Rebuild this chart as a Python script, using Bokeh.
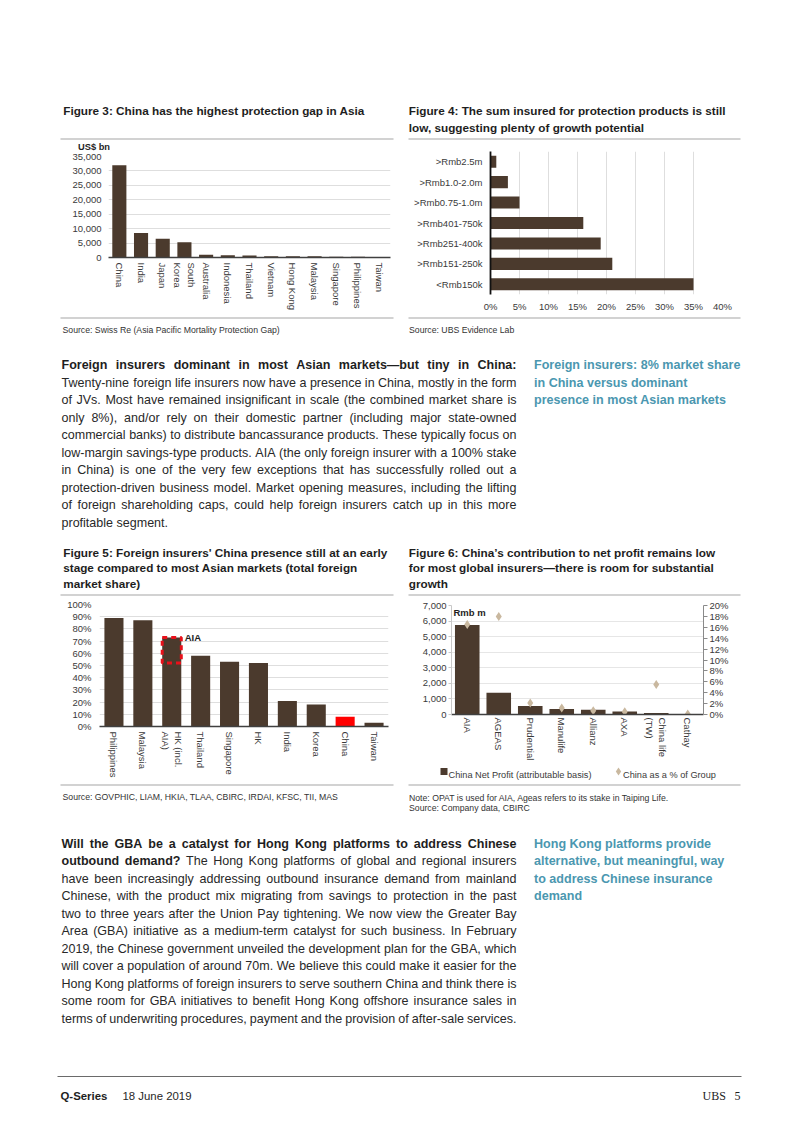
import math
from bokeh.plotting import figure
from bokeh.models import (Range1d, FactorRange, NumeralTickFormatter, PrintfTickFormatter,
                          LinearAxis, Label)
from bokeh.layouts import column, row
from bokeh.core.properties import value
from bokeh.embed import file_html
from bokeh.resources import INLINE

# ---------------- data ----------------
fig3_categories = ["China", "India", "Japan", "South\nKorea", "Australia", "Indonesia", "Thailand",
                   "Vietnam", "Hong Kong", "Malaysia", "Singapore", "Philippines", "Taiwan"]
fig3_values = [32000, 8500, 6500, 5300, 930, 750, 650, 450, 420, 400, 300, 280, 100]
fig3_ticks = [0, 5000, 10000, 15000, 20000, 25000, 30000, 35000]

fig4_categories = [">Rmb2.5m", ">Rmb1.0-2.0m", ">Rmb0.75-1.0m", ">Rmb401-750k",
                   ">Rmb251-400k", ">Rmb151-250k", "<Rmb150k"]  # top to bottom
fig4_values = [1, 3, 5, 16, 19, 21, 35]
fig4_ticks = [0, 5, 10, 15, 20, 25, 30, 35, 40]

fig5_categories = ["Philippines", "Malaysia", "HK (incl.\nAIA)", "Thailand", "Singapore", "HK",
                   "India", "Korea", "China", "Taiwan"]
fig5_values = [89, 87, 73, 58, 53, 52, 21, 18, 8, 3]
fig5_ticks = [0, 10, 20, 30, 40, 50, 60, 70, 80, 90, 100]
fig5_highlight = "China"
fig5_aia_with, fig5_aia_without = "HK (incl.\nAIA)", "HK"

fig6_categories = ["AIA", "AGEAS", "Prudential", "Manulife", "Allianz", "AXA", "China life\n(TW)", "Cathay"]
fig6_profit = [5750, 1400, 550, 350, 300, 200, 100, 20]
fig6_share = [16.5, 18.0, 2.1, 1.2, 0.7, 0.5, 5.5, 0.1]
fig6_left_ticks = [0, 1000, 2000, 3000, 4000, 5000, 6000, 7000]
fig6_right_ticks = [0, 2, 4, 6, 8, 10, 12, 14, 16, 18, 20]
fig6_series = ["China Net Profit (attributable basis)", "China as a % of Group"]

# ---------------- style ----------------
FONT = "Liberation Sans"
BROWN = "#4b3a2d"
RED = "#ff0000"
BEIGE = "#c9b89f"
TEAL = "#4b97b0"
RULE = "#d2d2d2"
GRID = "#dedede"
AX = "#404040"
TXT = "#1e1e1e"
BODY = "#282828"
LBL = "#3a3a3a"

# Arial / Liberation Sans advance widths (1/1000 em)
REG = {}
for chs, w in [("'", 191), ("ijl\u2019", 222), (" !,./:;ftI[]\\", 278), ("()-r`", 333), ('"', 355),
               ("*", 389), ("cksvxyzJ", 500), ("0123456789abdeghnopqu#$?_L", 556), ("+<=>", 584),
               ("FTZ", 611), ("ABEKPSVXY&", 667), ("CDHNRUw", 722), ("GOQ", 778), ("Mm", 833),
               ("%", 889), ("W", 944), ("\u2014", 1000), ("@", 1015)]:
    for c in chs:
        REG[c] = w
BOLD = {}
for chs, w in [("'", 238), (" ,./ijlI\u2019", 278), ("!():;-ft`", 333), ("r", 389), ("z", 500),
               ("0123456789acesvxykJ$#_", 556), ("+<=>", 584), ("bdghnopquFTZL?", 611),
               ("EPSVXY", 667), ("ABCDHKNRU&", 722), ("GOQw", 778), ("M", 833), ("m%", 889),
               ("W", 944), ("\u2014", 1000)]:
    for c in chs:
        BOLD[c] = w


def em(s, bold=False):
    t = BOLD if bold else REG
    return sum(t.get(c, 556) for c in s) / 1000.0


# ---------------- text content ----------------
title3 = ["Figure 3: China has the highest protection gap in Asia"]
title4 = ["Figure 4: The sum insured for protection products is still",
          "low, suggesting plenty of growth potential"]
title5 = ["Figure 5: Foreign insurers' China presence still at an early",
          "stage compared to most Asian markets (total foreign",
          "market share)"]
title6 = ["Figure 6: China\u2019s contribution to net profit remains low",
          "for most global insurers\u2014there is room for substantial",
          "growth"]
src3 = "Source:  Swiss Re (Asia Pacific Mortality Protection Gap)"
src4 = "Source:  UBS Evidence Lab"
src5 = "Source:  GOVPHIC, LIAM, HKIA, TLAA, CBIRC, IRDAI, KFSC, TII, MAS"
note6 = "Note: OPAT is used for AIA, Ageas refers to its stake in Taiping Life."
src6 = "Source:  Company data, CBIRC"

para1 = [
    [("Foreign insurers dominant in most Asian markets\u2014but tiny in China:", True)],
    [("Twenty-nine foreign life insurers now have a presence in China, mostly in the form", False)],
    [("of JVs. Most have remained insignificant in scale (the combined market share is", False)],
    [("only 8%), and/or rely on their domestic partner (including major state-owned", False)],
    [("commercial banks) to distribute bancassurance products. These typically focus on", False)],
    [("low-margin savings-type products. AIA (the only foreign insurer with a 100% stake", False)],
    [("in China) is one of the very few exceptions that has successfully rolled out a", False)],
    [("protection-driven business model. Market opening measures, including the lifting", False)],
    [("of foreign shareholding caps, could help foreign insurers catch up in this more", False)],
    [("profitable segment.", False)],
]
side1 = ["Foreign insurers: 8% market share", "in China versus dominant", "presence in most Asian markets"]

para2 = [
    [("Will the GBA be a catalyst for Hong Kong platforms to address Chinese", True)],
    [("outbound demand?", True), ("The Hong Kong platforms of global and regional insurers", False)],
    [("have been increasingly addressing outbound insurance demand from mainland", False)],
    [("Chinese, with the product mix migrating from savings to protection in the past", False)],
    [("two to three years after the Union Pay tightening. We now view the Greater Bay", False)],
    [("Area (GBA) initiative as a medium-term catalyst for such business. In February", False)],
    [("2019, the Chinese government unveiled the development plan for the GBA, which", False)],
    [("will cover a population of around 70m. We believe this could make it easier for the", False)],
    [("Hong Kong platforms of foreign insurers to serve southern China and think there is", False)],
    [("some room for GBA initiatives to benefit Hong Kong offshore insurance sales in", False)],
    [("terms of underwriting procedures, payment and the provision of after-sale services.", False)],
]
side2 = ["Hong Kong platforms provide", "alternative, but meaningful, way",
         "to address Chinese insurance", "demand"]

# ---------------- sizes ----------------
TITLE_SIZE = 302.0 / em(title3[0], True)
SRC_SIZE = 220.0 / em(src3)
SIDE_SIZE = 206.5 / em(side1[0], True)
PX0, PX1 = 61.0, 516.0


def words_of(segs):
    return [(w, b) for t, b in segs for w in t.split()]


def fit_size(paras, width, min_gap=0.24):
    s = 13.0
    for lines, jl in paras:
        for i, segs in enumerate(lines):
            if i == len(lines) - 1 and not jl:
                continue
            ws = words_of(segs)
            W = sum(em(w, b) for w, b in ws)
            s = min(s, width / (W + min_gap * (len(ws) - 1)))
    return s


PARA_SIZE = fit_size([(para1, False), (para2, True)], PX1 - PX0)


def para_words(lines, y0, dy, size, justify_last):
    reg = ([], [], [])
    bld = ([], [], [])
    for i, segs in enumerate(lines):
        ws = words_of(segs)
        widths = [em(w, b) * size for w, b in ws]
        last = (i == len(lines) - 1) and not justify_last
        if last or len(ws) < 2:
            gap = em(" ") * size
        else:
            gap = (PX1 - PX0 - sum(widths)) / (len(ws) - 1)
        x = PX0
        for (w, b), wd in zip(ws, widths):
            tgt = bld if b else reg
            tgt[0].append(x)
            tgt[1].append(y0 + i * dy)
            tgt[2].append(w)
            x += wd + gap
    return reg, bld


# ---------------- helpers ----------------
PAGE_W = 802


def panel(y_top, y_bot, x0=0, x1=PAGE_W):
    p = figure(width=x1 - x0, height=y_bot - y_top, x_range=Range1d(x0, x1), y_range=Range1d(y_bot, y_top),
               output_backend="svg", toolbar_location=None, min_border=0, title=None,
               x_axis_location=None, y_axis_location=None, outline_line_color=None,
               background_fill_color="white", border_fill_color="white")
    p.xgrid.visible = False
    p.ygrid.visible = False
    return p


def txt(p, xs, ys, texts, size, bold=False, color=TXT, font=FONT, align="left"):
    if not texts:
        return
    p.text(x=xs, y=ys, text=texts, text_font=value(font), text_font_size=value(f"{size:.2f}px"),
           text_font_style="bold" if bold else "normal", text_color=color,
           text_baseline="alphabetic", text_align=align)


def rules(p, y, spans, color=RULE, width=2):
    p.segment(x0=[a for a, b in spans], y0=[y] * len(spans), x1=[b for a, b in spans], y1=[y] * len(spans),
              line_color=color, line_width=width)


def draw_para(p, lines, y0, dy, justify_last):
    reg, bld = para_words(lines, y0, dy, PARA_SIZE, justify_last)
    txt(p, *reg, PARA_SIZE, False, color=BODY)
    txt(p, *bld, PARA_SIZE, True)


def chart(width, height, x_range, y_range, mb):
    p = figure(width=width, height=height, x_range=x_range, y_range=y_range, output_backend="svg",
               toolbar_location=None, title=None, outline_line_color=None,
               min_border_left=mb[0], min_border_right=mb[1], min_border_top=mb[2], min_border_bottom=mb[3],
               background_fill_color="white", border_fill_color="white")
    return p


def style_axis(ax, line_color=None, line_width=1.0, ticks_out=0, tick_color=AX, standoff=5):
    ax.axis_line_color = line_color
    ax.axis_line_width = line_width
    ax.major_tick_line_color = tick_color if ticks_out else None
    ax.major_tick_out = ticks_out
    ax.major_tick_in = 0
    ax.minor_tick_line_color = None
    ax.major_label_text_font = FONT
    ax.major_label_text_font_size = "9.5px"
    ax.major_label_text_color = LBL
    ax.major_label_standoff = standoff


def note_label(p, x, y, text, xo, yo):
    p.add_layout(Label(x=x, y=y, x_offset=xo, y_offset=yo, text=text, text_font=FONT,
                       text_font_size="9.5px", text_font_style="bold", text_color=TXT,
                       text_baseline="alphabetic"))


# ---------------- panel 1: titles ----------------
P1 = panel(0, 151)
txt(P1, [62.7], [110.2], title3, TITLE_SIZE, True)
txt(P1, [408.3] * 2, [110.2, 126.8], title4, TITLE_SIZE, True)
rules(P1, 138.6, [(60, 393), (408, 740)])
txt(P1, [77.5], [146.0], ["US$ bn"], 9.3, True)

# ---------------- Figure 3 ----------------
f3 = chart(400, 165, FactorRange(*fig3_categories), Range1d(0, 35000), (108, 10, 5, 59))
f3.vbar(x=fig3_categories, top=fig3_values, width=0.65, fill_color=BROWN, line_color=None)
style_axis(f3.xaxis[0], line_color=AX, line_width=1.6, standoff=5)
f3.xaxis.major_label_orientation = "vertical"
style_axis(f3.yaxis[0], standoff=7)
f3.yaxis.ticker = fig3_ticks
f3.yaxis.formatter = NumeralTickFormatter(format="0,0")
f3.xgrid.visible = False
f3.ygrid.grid_line_color = GRID

# ---------------- Figure 4 ----------------
f4 = chart(402, 165, Range1d(0, 40), FactorRange(*fig4_categories[::-1]), (90, 80, 0, 22))
f4.hbar(y=fig4_categories, right=fig4_values, height=0.59, fill_color=BROWN, line_color=None)
style_axis(f4.yaxis[0], line_color="#111111", line_width=1.8, standoff=8)
style_axis(f4.xaxis[0], standoff=6)
f4.xaxis.ticker = fig4_ticks
f4.xaxis.formatter = PrintfTickFormatter(format="%d%%")
f4.ygrid.visible = False
f4.xgrid.grid_line_color = GRID

# ---------------- panel 2 ----------------
P2 = panel(316, 597)
rules(P2, 317.6, [(60, 393), (408, 740)])
txt(P2, [62], [329], [src3], SRC_SIZE, False, color="#333333")
txt(P2, [408.5], [329], [src4], SRC_SIZE, False, color="#333333")
draw_para(P2, para1, 364.5, 17.5, False)
txt(P2, [533.5] * 3, [364.5, 382.0, 399.5], side1, SIDE_SIZE, True, color=TEAL)
txt(P2, [62.7] * 3, [551.5, 567.0, 582.5], title5, TITLE_SIZE, True)
txt(P2, [408.3] * 3, [551.5, 567.0, 582.5], title6, TITLE_SIZE, True)
rules(P2, 594.6, [(60, 393), (408, 740)])

# ---------------- Figure 5 ----------------
f5 = chart(400, 185, FactorRange(*fig5_categories), Range1d(0, 100), (99, 12, 7, 56))
fig5_colors = [RED if c == fig5_highlight else BROWN for c in fig5_categories]
f5.vbar(x=fig5_categories, top=fig5_values, width=0.66, fill_color=fig5_colors, line_color=None)
aia_top = fig5_values[fig5_categories.index(fig5_aia_with)]
aia_bot = fig5_values[fig5_categories.index(fig5_aia_without)]
f5.vbar(x=[fig5_aia_with], bottom=[aia_bot], top=[aia_top], width=0.66, fill_alpha=0,
        line_color="#e8101a", line_width=3, line_dash="5 4")
style_axis(f5.xaxis[0], line_color=AX, line_width=1.6, standoff=5)
f5.xaxis.major_label_orientation = "vertical"
style_axis(f5.yaxis[0], standoff=8)
f5.yaxis.ticker = fig5_ticks
f5.yaxis.formatter = PrintfTickFormatter(format="%d%%")
f5.xgrid.visible = False
f5.ygrid.grid_line_color = GRID
note_label(f5, fig5_categories.index(fig5_aia_with) + 0.5, aia_top, "AIA", 13, 0)

# ---------------- Figure 6 ----------------
f6 = chart(402, 166, FactorRange(*fig6_categories), Range1d(0, 7000), (51, 99, 8, 49))
f6.extra_y_ranges = {"pct": Range1d(0, 20)}
f6.vbar(x=fig6_categories, top=fig6_profit, width=0.78, fill_color=BROWN, line_color=None)
f6.scatter(x=fig6_categories, y=fig6_share, y_range_name="pct", marker="diamond", size=9,
           fill_color=BEIGE, line_color=None)
style_axis(f6.xaxis[0], line_color=AX, line_width=1.6, standoff=3)
f6.xaxis.major_label_orientation = "vertical"
style_axis(f6.yaxis[0], line_color="#c8c8c8", ticks_out=3, tick_color="#c8c8c8", standoff=2)
f6.yaxis.ticker = fig6_left_ticks
f6.yaxis.formatter = NumeralTickFormatter(format="0,0")
rax = LinearAxis(y_range_name="pct")
style_axis(rax, line_color="#8a8a8a", ticks_out=4, tick_color="#8a8a8a", standoff=2)
rax.ticker = fig6_right_ticks
rax.formatter = PrintfTickFormatter(format="%d%%")
f6.add_layout(rax, "right")
f6.xgrid.visible = False
f6.ygrid.grid_line_color = "#e6e6e6"
note_label(f6, 0, fig6_left_ticks[-1], "Rmb m", 2, -7)

# legend strip under Figure 6
L6 = panel(763, 782, 400, 802)
L6.scatter(x=[443.5], y=[771.0], marker="square", size=7, fill_color=BROWN, line_color=None)
L6.scatter(x=[618.0], y=[771.0], marker="diamond", size=8, fill_color=BEIGE, line_color=None)
txt(L6, [448.0, 622.5], [774.4, 774.4], fig6_series, 9.2, False, color=LBL)

# ---------------- panel 3 ----------------
P3 = panel(782, 1130)
rules(P3, 784.6, [(60, 393), (408, 740)])
txt(P3, [62], [796.5], [src5], SRC_SIZE, False, color="#333333")
txt(P3, [408.5, 408.5], [797.0, 807.5], [note6, src6], SRC_SIZE, False, color="#333333")
draw_para(P3, para2, 843.5, 17.45, True)
txt(P3, [533.5] * 4, [843.5, 860.95, 878.4, 895.85], side2, SIDE_SIZE, True, color=TEAL)
rules(P3, 1076, [(57, 741)], color="#6a6a6a", width=1)
txt(P3, [60], [1095], ["Q-Series"], 11.4, True)
txt(P3, [122], [1095], ["18 June 2019"], 11.4, False, color=BODY)
txt(P3, [702], [1095], ["UBS"], 12, False, font="Liberation Serif")
txt(P3, [740], [1095], ["5"], 12, False, font="Liberation Serif", align="right")

layout = column(P1, row(column(f3), column(f4)), P2,
                row(column(f5), column(row(f6), row(L6))), P3)
open("out.html", "w").write(file_html(layout, INLINE))
